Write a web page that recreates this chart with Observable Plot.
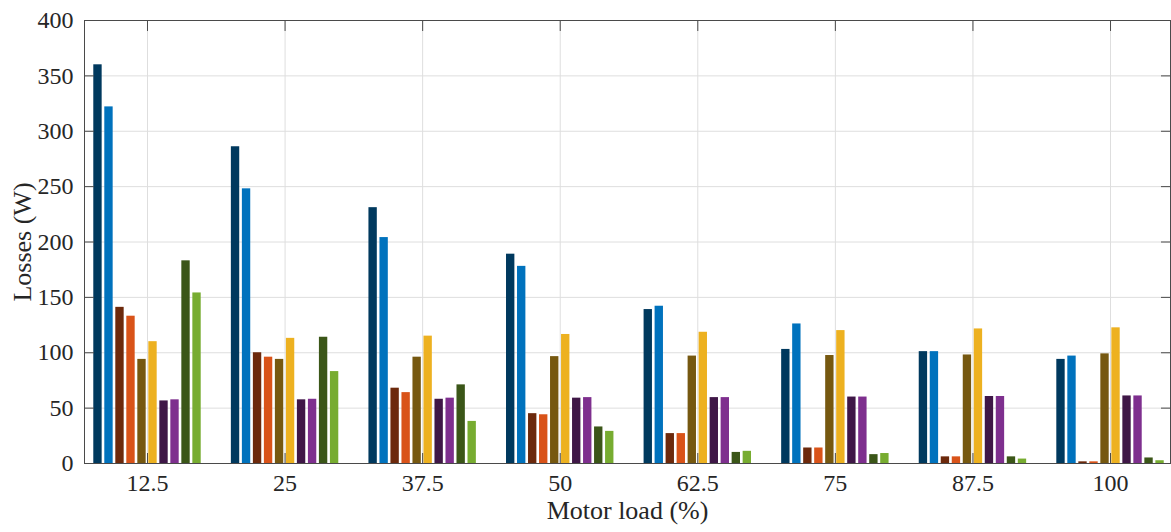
<!DOCTYPE html>
<html>
<head>
<meta charset="utf-8">
<script src="https://cdn.jsdelivr.net/npm/d3@7"></script>
<script src="https://cdn.jsdelivr.net/npm/@observablehq/plot@0.6"></script>
<style>
  html, body { margin: 0; padding: 0; background: #fff; }
  #chart svg { display: block; }
</style>
</head>
<body>
<div id="chart"></div>
<script>
// ---- data ----
const loads = [12.5, 25, 37.5, 50, 62.5, 75, 87.5, 100];
const yTicks = [0, 50, 100, 150, 200, 250, 300, 350, 400];

const seriesNames = ["S1", "S2", "S3", "S4", "S5", "S6", "S7", "S8", "S9", "S10"];
const seriesColors = ["#00395E", "#0072BD", "#6C290C", "#D95319", "#765810",
                      "#EDB120", "#3F1747", "#7E2F8E", "#3B5618", "#77AC30"];

const s1  = [360, 286, 231, 189, 139, 103, 101, 94];
const s2  = [322, 248, 204, 178, 142, 126, 101, 97];
const s3  = [141, 100, 68, 45, 27, 14, 6, 1.5];
const s4  = [133, 96, 64, 44, 27, 14, 6, 1.5];
const s5  = [94, 94, 96, 96.5, 97, 97.5, 98, 99];
const s6  = [110, 113, 115, 116.5, 118.5, 120, 121.5, 122.5];
const s7  = [56.5, 57.5, 58, 59, 59.5, 60, 60.5, 61];
const s8  = [57.5, 58, 59, 59.5, 59.5, 60, 60.5, 61];
const s9  = [183, 114, 71, 33, 10, 8, 6, 5];
const s10 = [154, 83, 38, 29, 11, 9, 4, 2.5];

const seriesValues = [s1, s2, s3, s4, s5, s6, s7, s8, s9, s10];

// ---- table ----
const rows = [];
seriesValues.forEach((vals, si) => {
  vals.forEach((v, li) => rows.push({load: loads[li], series: seriesNames[si], si, value: v}));
});

// grouped-bar layout (in load units), MATLAB-like: group width 0.8 of spacing
const groupSpacing = 12.5;
const pitch = groupSpacing * 0.8 / seriesNames.length;
const barW = pitch * 0.76;
const offset = d => (d.si - (seriesNames.length - 1) / 2) * pitch;

const font = "'Liberation Serif', 'Times New Roman', serif";
const axisColor = "#4a4a4a";

const chart = Plot.plot({
  width: 1171,
  height: 532,
  marginTop: 20,
  marginBottom: 69,
  marginLeft: 84,
  marginRight: 1,
  style: {fontFamily: font, background: "#fff", color: "#262626"},
  x: {type: "linear", domain: [6.776, 105.45]},
  y: {domain: [0, 400]},
  color: {domain: seriesNames, range: seriesColors},
  marks: [
    Plot.gridY(yTicks, {stroke: "#dedede", strokeOpacity: 1}),
    Plot.gridX(loads, {stroke: "#dedede", strokeOpacity: 1}),
    Plot.rect(rows, {
      x1: d => d.load + offset(d) - barW / 2,
      x2: d => d.load + offset(d) + barW / 2,
      y1: 0,
      y2: "value",
      fill: "series"
    }),
    Plot.frame({stroke: axisColor, strokeWidth: 1}),
    // inward ticks on all four sides
    Plot.axisY(yTicks, {anchor: "left", tickSize: -10, tickFormat: () => "", label: null, stroke: axisColor}),
    Plot.axisY(yTicks, {anchor: "right", tickSize: -10, tickFormat: () => "", label: null, stroke: axisColor}),
    Plot.axisX(loads, {anchor: "bottom", tickSize: -10, tickFormat: () => "", label: null, stroke: axisColor}),
    Plot.axisX(loads, {anchor: "top", tickSize: -10, tickFormat: () => "", label: null, stroke: axisColor}),
    // tick labels
    Plot.axisY(yTicks, {anchor: "left", tickSize: 0, tickPadding: 11, fontSize: 24, label: null, fill: "#262626"}),
    Plot.axisX(loads, {anchor: "bottom", tickSize: 0, tickPadding: 10.5, fontSize: 24, label: null, fill: "#262626",
                       tickFormat: d => String(d)}),
    // axis titles
    Plot.axisY(yTicks, {anchor: "left", tickSize: 0, tickFormat: () => "", fontSize: 26, fill: "#262626",
                        label: "Losses (W)", labelAnchor: "center", labelArrow: "none", labelOffset: 72}),
    Plot.axisX(loads, {anchor: "bottom", tickSize: 0, tickFormat: () => "", fontSize: 26, fill: "#262626",
                       label: "Motor load (%)", labelAnchor: "center", labelArrow: "none", labelOffset: 55})
  ]
});

document.getElementById("chart").appendChild(chart);
</script>
</body>
</html>
